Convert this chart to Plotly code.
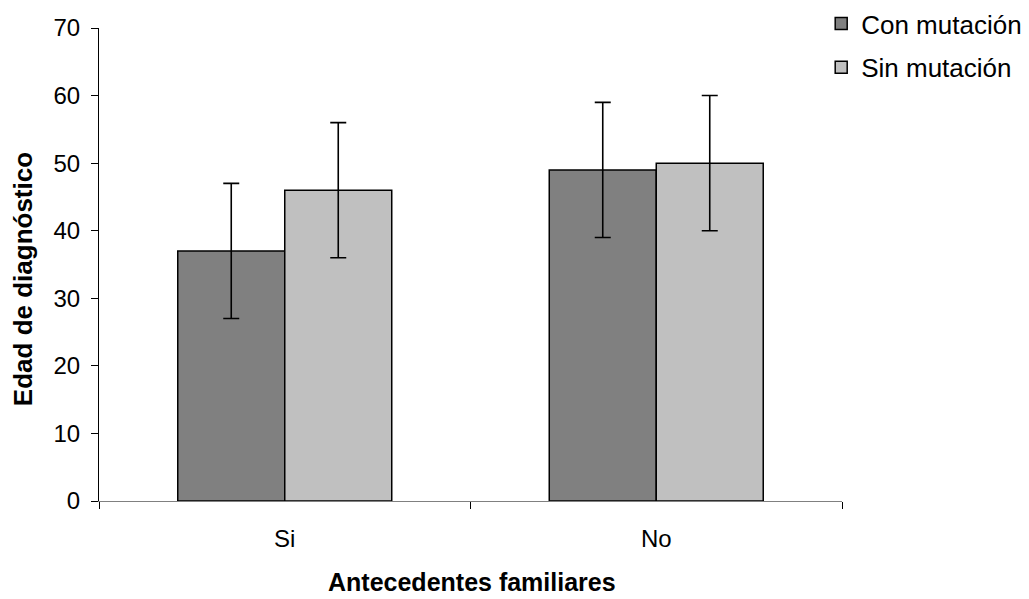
import plotly.graph_objects as go

categories = ["Si", "No"]
series_names = ["Con mutación", "Sin mutación"]
con_values = [37, 49]
sin_values = [46, 50]
con_err = [10, 10]
sin_err = [10, 10]
colors = ["#808080", "#c0c0c0"]
x_title = "Antecedentes familiares"
y_title = "Edad de diagnóstico"

fig = go.Figure()
for name, vals, err, col in zip(series_names, [con_values, sin_values], [con_err, sin_err], colors):
    fig.add_trace(go.Bar(
        x=categories, y=vals, name=name, legendgroup=name,
        marker=dict(color=col, line=dict(color="black", width=1.5)),
        error_y=dict(type="data", array=err, visible=True, color="black", thickness=1.6, width=8),
    ))

font = "Liberation Sans, Arial, sans-serif"
fig.update_layout(
    width=1021, height=591,
    margin=dict(l=91, r=187, t=20, b=98, autoexpand=False),
    paper_bgcolor="white", plot_bgcolor="white",
    barmode="group", bargap=0.424, bargroupgap=0,
    font=dict(family=font, size=24, color="black"),
    legend=dict(x=0.972, y=1.059, xanchor="left", yanchor="top",
                font=dict(size=26), tracegroupgap=7,
                bgcolor="rgba(0,0,0,0)"),
    xaxis=dict(
        tickson="boundaries", ticks="outside", ticklen=7, tickcolor="black",
        showline=True, linecolor="#808080", linewidth=1,
        tickfont=dict(size=24), showgrid=False, ticklabelstandoff=16,
    ),
    yaxis=dict(
        range=[0, 70], dtick=10, ticks="outside", ticklen=7, tickcolor="black",
        showline=True, linecolor="black", linewidth=1,
        tickfont=dict(size=24), showgrid=False, zeroline=False, ticklabelstandoff=6,
    ),
    annotations=[
        dict(text="<b>" + x_title + "</b>", xref="paper", yref="paper",
             x=0.502, y=-0.171, xanchor="center", yanchor="middle",
             showarrow=False, font=dict(size=25), borderpad=0),
        dict(text="<b>" + y_title + "</b>", xref="paper", yref="paper",
             x=-0.1023, y=0.469, xanchor="center", yanchor="middle", textangle=-90,
             showarrow=False, font=dict(size=26)),
    ],
)
fig.write_html("out.html")
